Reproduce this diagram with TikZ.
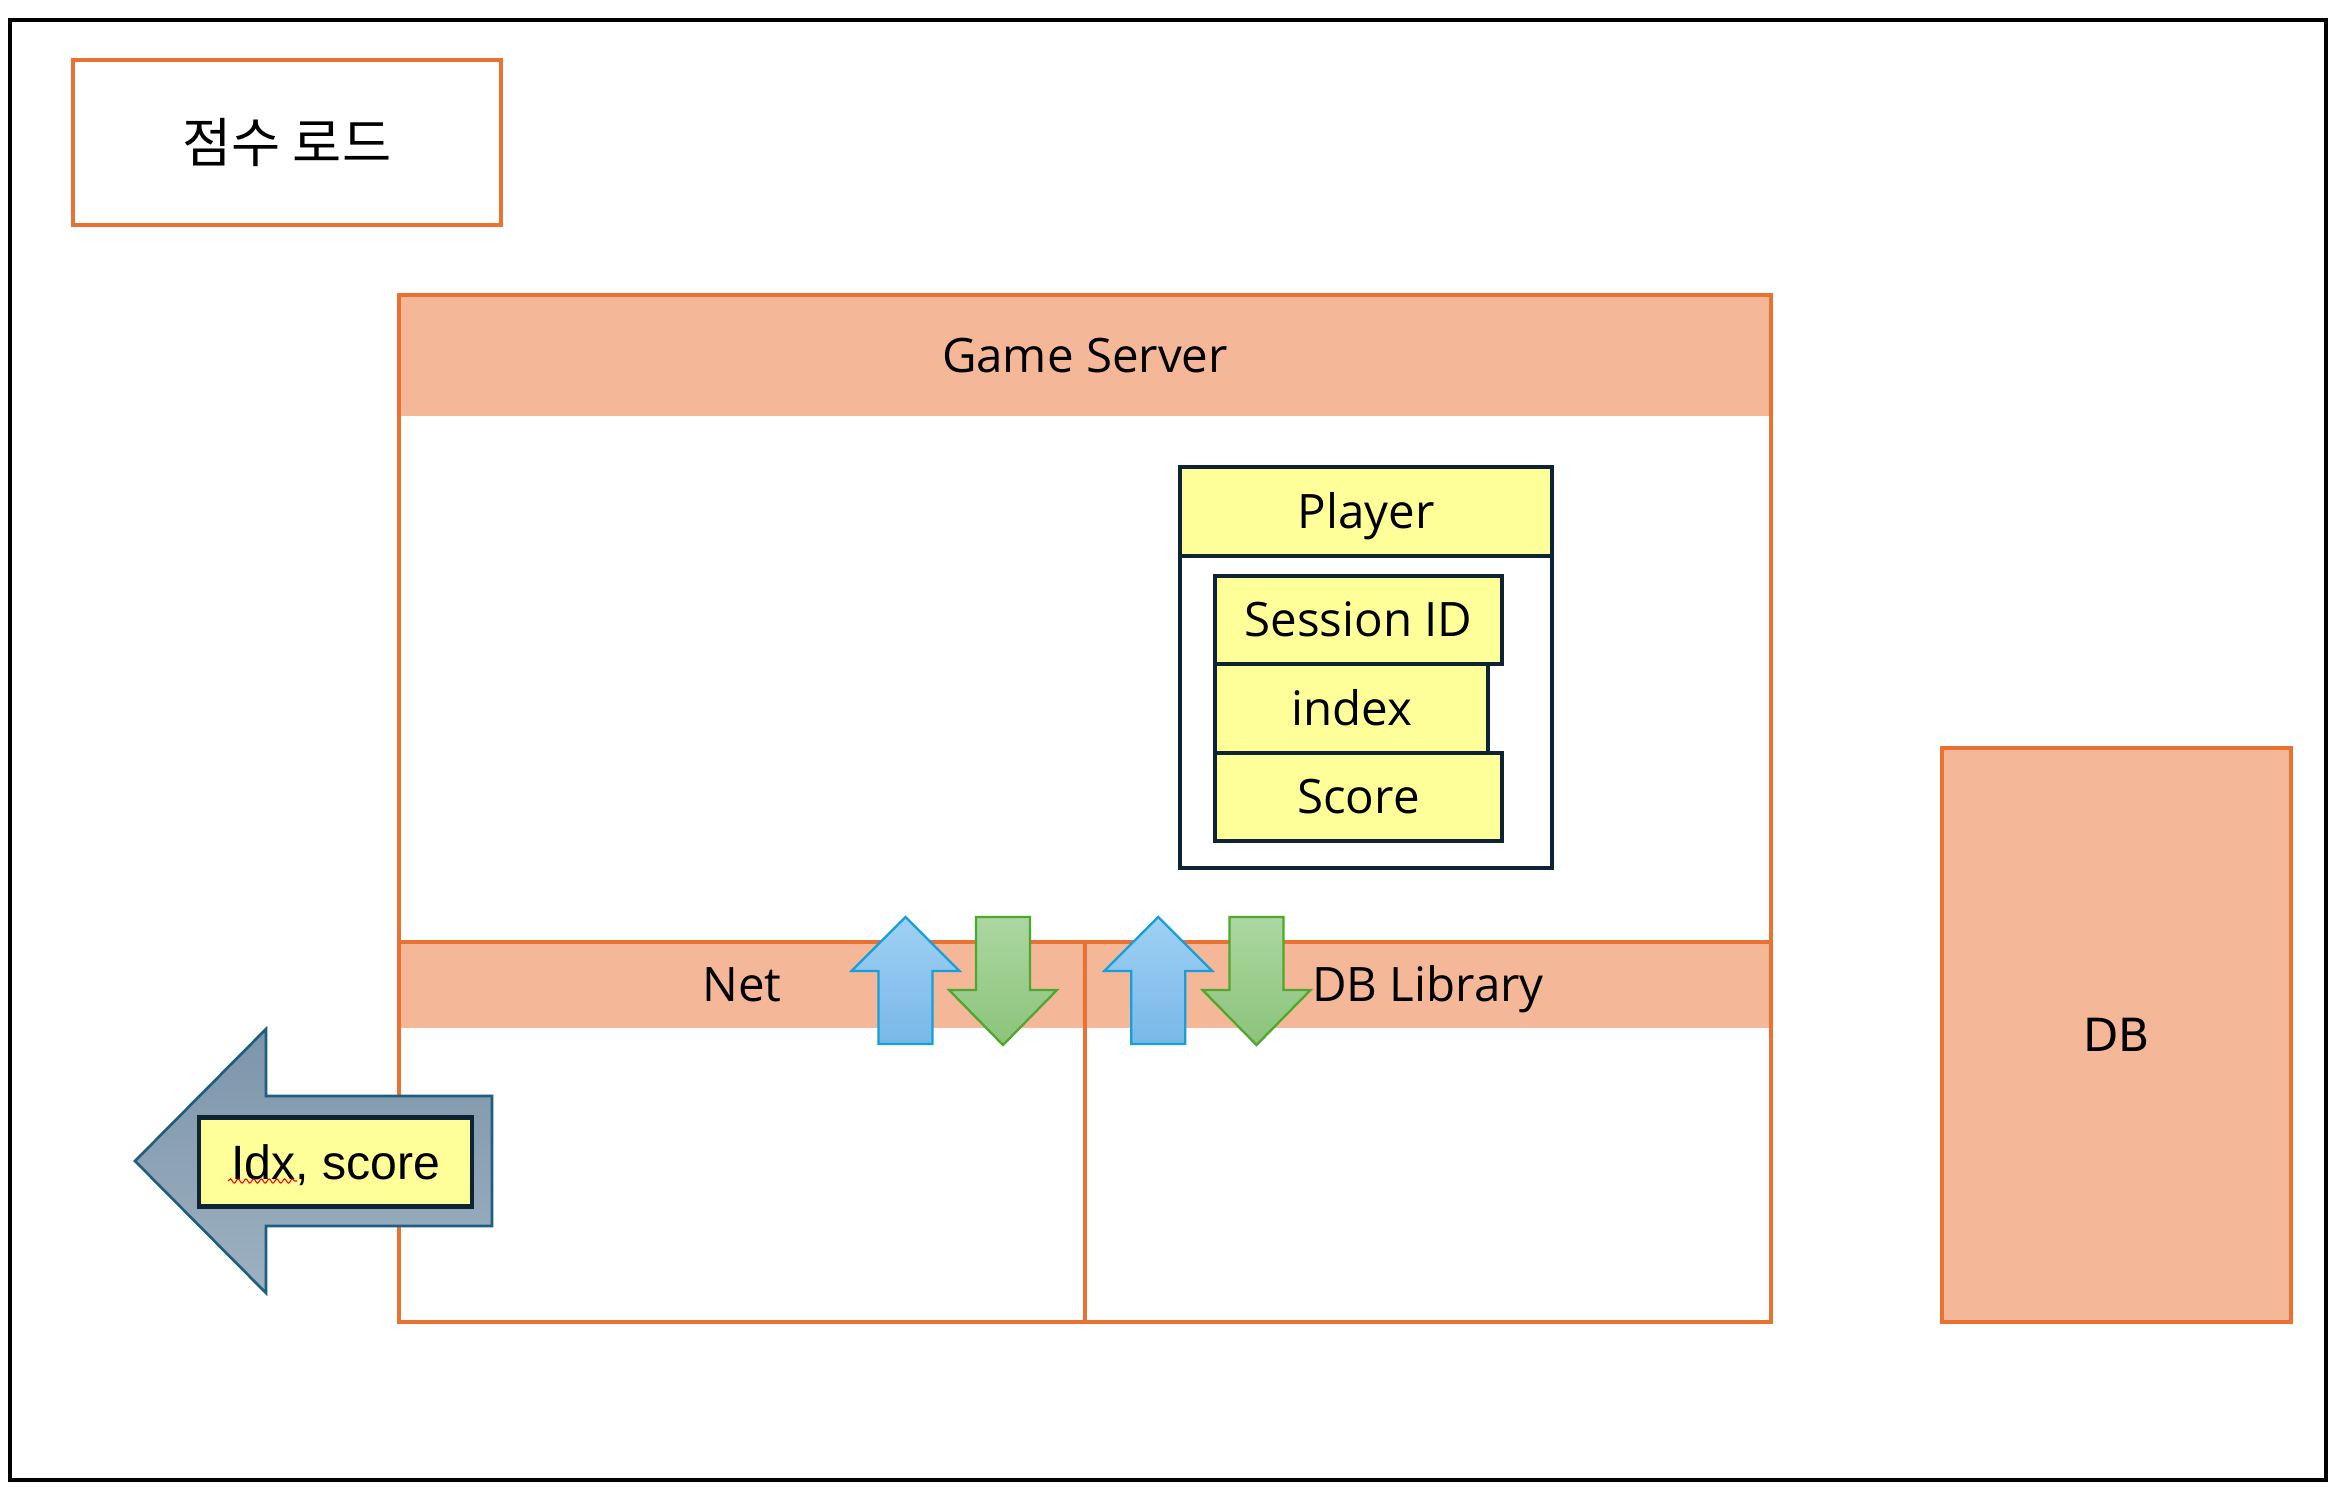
\documentclass[tikz,border=0pt]{standalone}
\usepackage{fontspec}
\setmainfont{Open Sans}
\newfontfamily\krfont{Noto Sans CJK KR}
\newfontfamily\arialfont{Liberation Sans}
\newfontfamily\dbfont{DejaVu Sans}
\usetikzlibrary{decorations.pathmorphing}

\definecolor{frameorange}{HTML}{E97132}
\definecolor{bandfill}{HTML}{F4B899}
\definecolor{navy}{HTML}{0E2333}
\definecolor{paleyellow}{HTML}{FFFF99}
\definecolor{upstroke}{HTML}{169FD8}
\definecolor{uptop}{HTML}{A0D0F4}
\definecolor{upbot}{HTML}{78B8E8}
\definecolor{dnstroke}{HTML}{4EA72E}
\definecolor{dntop}{HTML}{ABD7A1}
\definecolor{dnbot}{HTML}{8CC37A}
\definecolor{sendstroke}{HTML}{1F5E80}
\definecolor{sendtop}{HTML}{7C95A9}
\definecolor{sendbot}{HTML}{9DB1C1}

% block arrow pointing up, centred on x = #1
\newcommand\drawuparrow[1]{%
  \path[draw=upstroke, line width=0.65pt, top color=uptop, bottom color=upbot]
    (#1,917) -- (#1+54,971) -- (#1+27,971) -- (#1+27,1044)
    -- (#1-27,1044) -- (#1-27,971) -- (#1-54,971) -- cycle;}
% block arrow pointing down, centred on x = #1
\newcommand\drawdownarrow[1]{%
  \path[draw=dnstroke, line width=0.65pt, top color=dntop, bottom color=dnbot]
    (#1-27,917) -- (#1+27,917) -- (#1+27,990) -- (#1+54,990)
    -- (#1,1045) -- (#1-54,990) -- (#1-27,990) -- cycle;}

\begin{document}
\begin{tikzpicture}[x=0.01cm, y=-0.01cm,
  every node/.style={outer sep=0pt, inner sep=0pt},
  txt/.style={font=\fontsize{13.5}{16}\selectfont, text height=9.64pt, text depth=0pt},
  orangebox/.style={draw=frameorange, line width=1.14pt},
  orangeline/.style={draw=frameorange, line width=1.14pt},
  band/.style={fill=bandfill, txt},
  field/.style={draw=navy, fill=paleyellow, line width=1.14pt, txt},
]
\useasboundingbox (0,0) rectangle (2337,1494);
\fill[white] (0,0) rectangle (2337,1494);

% outer frame
\node[draw=black, line width=1.14pt, minimum width=23.14cm, minimum height=14.6cm] (frame) at (1168,750) {};

% title
\node[orangebox, minimum width=4.28cm, minimum height=1.65cm,
      font=\krfont\fontsize{15.2}{18}\selectfont] (title) at (287,142.5) {점수 로드};

% game server
\node[band, minimum width=13.72cm, minimum height=1.21cm] (gshead) at (1085,355.5) {Game Server};
\node[band, minimum width=6.86cm, minimum height=0.86cm] (netband) at (742,985) {Net};
\node[band, minimum width=6.86cm, minimum height=0.86cm] (dbband) at (1428,985) {DB Library};
\node[orangebox, minimum width=13.72cm, minimum height=10.27cm] (gs) at (1085,808.5) {};
\draw[orangeline] (netband.north west) -- (dbband.north east);
\draw[orangeline] (netband.north east) -- (netband.north east |- gs.south);

% player object
\node[draw=navy, line width=1.14pt, fill=white, minimum width=3.72cm, minimum height=4.01cm] (player) at (1366,667.5) {};
\node[field, minimum width=3.72cm, minimum height=0.89cm] (playerhead) at (1366,511.5) {Player};
\node[field, minimum width=2.87cm, minimum height=0.88cm] (sessionid) at (1358.5,620) {Session ID};
\node[field, minimum width=2.73cm, minimum height=0.89cm] (index) at (1351.5,708.5) {index};
\node[field, minimum width=2.87cm, minimum height=0.88cm] (score) at (1358.5,797) {Score};

% database
\node[orangebox, fill=bandfill, minimum width=3.49cm, minimum height=5.74cm,
      font=\dbfont\fontsize{13}{15}\selectfont, text height=9.5pt, text depth=0pt] (db) at (2116.5,1035) {DB};

% request / response arrows
\drawuparrow{905.5}
\drawdownarrow{1003}
\drawuparrow{1158.3}
\drawdownarrow{1256.5}

% outgoing packet
\path[draw=sendstroke, line width=0.75pt, top color=sendtop, bottom color=sendbot]
  (135,1161) -- (266,1029) -- (266,1096) -- (492,1096) -- (492,1226)
  -- (266,1226) -- (266,1293) -- cycle;
\node[draw=navy, fill=paleyellow, line width=1.2pt, minimum width=2.73cm, minimum height=0.89cm,
      font=\arialfont\fontsize{13.7}{16}\selectfont, text height=9.8pt, text depth=0pt] (packet) at (335.5,1162) {Idx, score};
\draw[red, line width=0.3pt, decorate, decoration={snake, amplitude=0.6pt, segment length=2.2pt}]
  (228,1181) -- (297,1181);
\end{tikzpicture}
\end{document}
